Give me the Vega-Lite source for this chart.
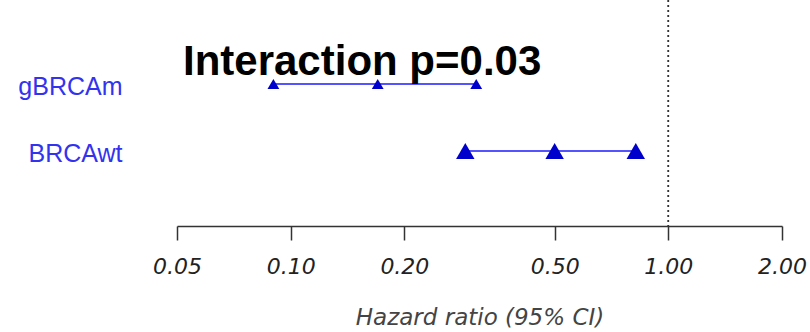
{
  "$schema": "https://vega.github.io/schema/vega-lite/v6.json",
  "width": 605,
  "height": 226,
  "autosize": "none",
  "padding": {"left": 177, "top": 0, "right": 28, "bottom": 106},
  "background": "white",
  "config": {"view": {"stroke": null}, "font": "Liberation Sans"},
  "title": {
    "text": "Interaction p=0.03",
    "anchor": "start",
    "frame": "group",
    "font": "Liberation Sans",
    "fontSize": 42,
    "fontWeight": "bold",
    "color": "#000000",
    "offset": 0,
    "baseline": "alphabetic",
    "dx": 6,
    "dy": 118
  },
  "data": {
    "values": [
      {"group": "gBRCAm", "hr": 0.17, "lo": 0.09, "hi": 0.31},
      {"group": "BRCAwt", "hr": 0.50, "lo": 0.29, "hi": 0.82}
    ]
  },
  "layer": [
    {
      "mark": {"type": "rule", "strokeDash": [2, 3], "color": "#333333", "strokeWidth": 1.5},
      "encoding": {"x": {"datum": 1, "type": "quantitative"}}
    },
    {
      "mark": {"type": "rule", "color": "#1a1aff", "strokeWidth": 1.5},
      "encoding": {
        "x": {
          "field": "lo",
          "type": "quantitative",
          "scale": {"type": "log", "domain": [0.05, 2], "nice": false, "zero": false},
          "axis": {
            "values": [0.05, 0.1, 0.2, 0.5, 1, 2],
            "format": ".2f",
            "title": "Hazard ratio (95% CI)",
            "grid": false,
            "labelFont": "DejaVu Sans",
            "labelFontStyle": "italic",
            "labelFontSize": 22,
            "labelColor": "#222222",
            "labelFlush": false,
            "labelOverlap": false,
            "labelPadding": 16,
            "tickSize": 14,
            "tickWidth": 1.5,
            "tickColor": "#333333",
            "domainColor": "#333333",
            "domainWidth": 1.5,
            "titleFont": "DejaVu Sans",
            "titleFontStyle": "italic",
            "titleFontSize": 23,
            "titleFontWeight": "normal",
            "titleColor": "#444444",
            "titlePadding": 29
          }
        },
        "x2": {"field": "hi"},
        "y": {
          "field": "group",
          "type": "nominal",
          "scale": {"type": "point", "domain": ["gBRCAm", "BRCAwt"], "range": [84, 151], "padding": 0},
          "axis": {
            "title": null,
            "domain": false,
            "ticks": false,
            "labelFont": "Liberation Sans",
            "labelFontSize": 25,
            "labelColor": "#3333ee",
            "labelPadding": 55,
            "labelOffset": 2
          }
        }
      }
    },
    {
      "transform": [{"fold": ["lo", "hr", "hi"], "as": ["stat", "value"]}],
      "mark": {"type": "point", "shape": "triangle-up", "filled": true, "color": "#0000cc", "opacity": 1},
      "encoding": {
        "x": {"field": "value", "type": "quantitative"},
        "y": {"field": "group", "type": "nominal"},
        "size": {
          "field": "group",
          "type": "nominal",
          "scale": {"domain": ["gBRCAm", "BRCAwt"], "range": [140, 340]},
          "legend": null
        }
      }
    }
  ]
}
